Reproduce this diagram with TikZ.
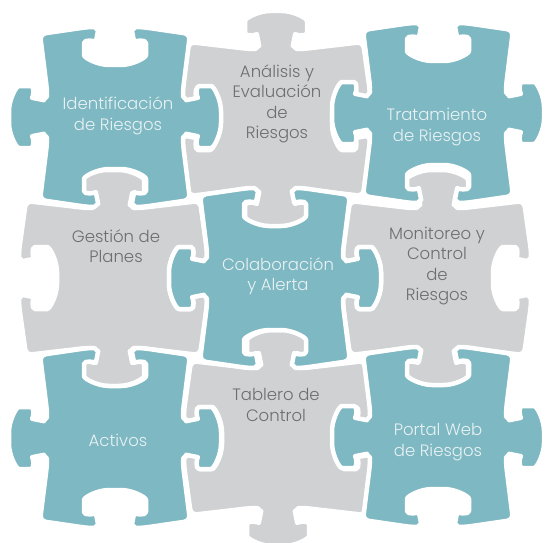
\documentclass[tikz,border=0pt]{standalone}
\usepackage{fontspec}
\setmainfont{Poppins}[UprightFont=* Light]
\usepackage{tikz}
\definecolor{myteal}{RGB}{126,184,194}
\definecolor{mygray}{RGB}{208,209,211}
\definecolor{mydark}{RGB}{109,110,113}
\definecolor{mylight}{RGB}{232,242,244}

% teal piece: knobs left/right, holes top/bottom
\newcommand{\tealpiece}[1]{%
    \draw[piece, fill=myteal, shift={(#1)}] (-75,-83) -- (-27,-90)
        .. controls (-20,-90) and (-17,-86) .. (-18,-81)
        .. controls (-19,-76) and (-31,-78) .. (-31,-68)
        .. controls (-31,-59) and (-17,-52) .. (0,-52)
        .. controls (17,-52) and (31,-59) .. (31,-68)
        .. controls (31,-78) and (19,-76) .. (18,-81)
        .. controls (17,-86) and (20,-90) .. (27,-90)
        -- (75,-83) -- (68,-27)
        .. controls (68,-20) and (72,-17) .. (77,-18)
        .. controls (82,-19) and (80,-31) .. (90,-31)
        .. controls (99,-31) and (106,-17) .. (106,0)
        .. controls (106,17) and (99,31) .. (90,31)
        .. controls (80,31) and (82,19) .. (77,18)
        .. controls (72,17) and (68,20) .. (68,27)
        -- (75,83) -- (27,90)
        .. controls (20,90) and (17,86) .. (18,81)
        .. controls (19,76) and (31,78) .. (31,68)
        .. controls (31,59) and (17,52) .. (0,52)
        .. controls (-17,52) and (-31,59) .. (-31,68)
        .. controls (-31,78) and (-19,76) .. (-18,81)
        .. controls (-17,86) and (-20,90) .. (-27,90)
        -- (-75,83) -- (-68,27)
        .. controls (-68,20) and (-72,17) .. (-77,18)
        .. controls (-82,19) and (-80,31) .. (-90,31)
        .. controls (-99,31) and (-106,17) .. (-106,0)
        .. controls (-106,-17) and (-99,-31) .. (-90,-31)
        .. controls (-80,-31) and (-82,-19) .. (-77,-18)
        .. controls (-72,-17) and (-68,-20) .. (-68,-27)
        -- cycle;}

% gray piece: knobs top/bottom, holes left/right
\newcommand{\graypiece}[1]{%
    \draw[piece, fill=mygray, shift={(#1)}] (-87,-77) -- (-27,-70)
        .. controls (-20,-70) and (-17,-74) .. (-18,-79)
        .. controls (-19,-84) and (-31,-82) .. (-31,-92)
        .. controls (-31,-101) and (-17,-108) .. (0,-108)
        .. controls (17,-108) and (31,-101) .. (31,-92)
        .. controls (31,-82) and (19,-84) .. (18,-79)
        .. controls (17,-74) and (20,-70) .. (27,-70)
        -- (87,-77) -- (94,-27)
        .. controls (94,-20) and (90,-17) .. (85,-18)
        .. controls (80,-19) and (82,-31) .. (72,-31)
        .. controls (63,-31) and (56,-17) .. (56,0)
        .. controls (56,17) and (63,31) .. (72,31)
        .. controls (82,31) and (80,19) .. (85,18)
        .. controls (90,17) and (94,20) .. (94,27)
        -- (87,77) -- (27,70)
        .. controls (20,70) and (17,74) .. (18,79)
        .. controls (19,84) and (31,82) .. (31,92)
        .. controls (31,101) and (17,108) .. (0,108)
        .. controls (-17,108) and (-31,101) .. (-31,92)
        .. controls (-31,82) and (-19,84) .. (-18,79)
        .. controls (-17,74) and (-20,70) .. (-27,70)
        -- (-87,77) -- (-94,27)
        .. controls (-94,20) and (-90,17) .. (-85,18)
        .. controls (-80,19) and (-82,31) .. (-72,31)
        .. controls (-63,31) and (-56,17) .. (-56,0)
        .. controls (-56,-17) and (-63,-31) .. (-72,-31)
        .. controls (-82,-31) and (-80,-19) .. (-85,-18)
        .. controls (-90,-17) and (-94,-20) .. (-94,-27)
        -- cycle;}

\begin{document}
\begin{tikzpicture}[x=1pt, y=-1pt,
    piece/.style={draw=white, line width=4.5pt, line join=round, rounded corners=6pt},
    label/.style={align=center, font=\fontsize{16.5}{20.5}\selectfont, inner sep=0pt},
    onteal/.style={label, text=mylight},
    ongray/.style={label, text=mydark}]
    \useasboundingbox (0,0) rectangle (546,543);
    \fill[white] (0,0) rectangle (546,543);
    % gray pieces
    \graypiece{276,119}
    \graypiece{113,278}
    \graypiece{437,278}
    \graypiece{278,438}
    % teal pieces
    \tealpiece{115,117}
    \tealpiece{438,113}
    \tealpiece{275,278}
    \tealpiece{115,438}
    \tealpiece{438,437}
    % texts
    \node[onteal] (ident) at (118,116) {Identificación\\de Riesgos};
    \node[ongray] (analisis) at (277,104) {Análisis y\\Evaluación\\de\\Riesgos};
    \node[onteal] (trat) at (437,127) {Tratamiento\\de Riesgos};
    \node[ongray] (gestion) at (116,246) {Gestión de\\Planes};
    \node[onteal] (colab) at (278,276) {Colaboración\\y Alerta};
    \node[ongray] (monit) at (437,266) {Monitoreo y\\Control\\de\\Riesgos};
    \node[onteal] (activos) at (118,440) {Activos};
    \node[ongray] (tablero) at (276,405) {Tablero de\\Control};
    \node[onteal] (portal) at (438,442) {Portal Web\\de Riesgos};
\end{tikzpicture}
\end{document}
